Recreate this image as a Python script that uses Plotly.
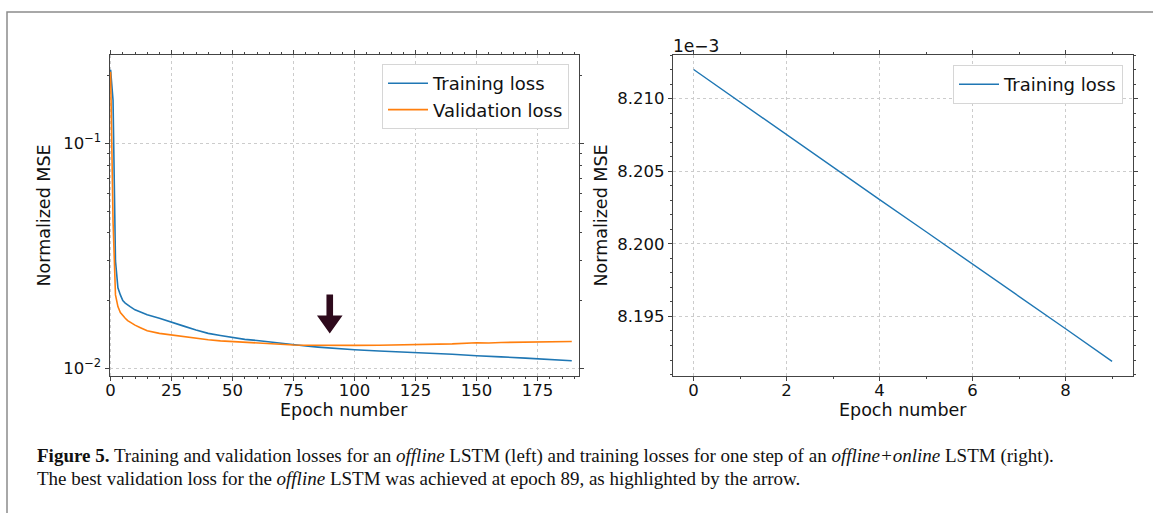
import plotly.graph_objects as go

# ---------------- data ----------------
offline_epochs = [0, 1, 2, 3, 4, 5, 6, 7, 8, 10, 12, 15, 20, 25, 30, 35, 40, 45, 50, 55,
                  60, 65, 70, 75, 80, 85, 90, 95, 100, 110, 120, 125, 130, 140, 150, 155,
                  160, 170, 175, 180, 185, 189]
offline_train_loss = [0.212, 0.155, 0.030, 0.0228, 0.0212, 0.0200, 0.0195, 0.0191, 0.0188,
                      0.0182, 0.0178, 0.0173, 0.0167, 0.0161, 0.0154, 0.0148, 0.0143, 0.0140,
                      0.0137, 0.01345, 0.0133, 0.0131, 0.0129, 0.0127, 0.01256, 0.01243,
                      0.01230, 0.01220, 0.01210, 0.01195, 0.01183, 0.01178, 0.01170, 0.01155,
                      0.01137, 0.01134, 0.01125, 0.01110, 0.01102, 0.01090, 0.01088, 0.01080]
offline_val_loss = [0.208, 0.045, 0.0212, 0.0188, 0.0177, 0.0171, 0.0167, 0.0163, 0.0160,
                    0.01556, 0.0152, 0.0147, 0.0143, 0.01405, 0.0138, 0.01355, 0.0134, 0.01325,
                    0.01315, 0.0131, 0.01302, 0.01292, 0.01282, 0.0127, 0.01266, 0.01264,
                    0.01263, 0.01264, 0.01265, 0.01267, 0.01270, 0.01272, 0.01275, 0.01285,
                    0.01300, 0.01296, 0.01303, 0.01308, 0.01315, 0.01312, 0.01318, 0.01317]
best_epoch = 89

online_epochs = [0, 1, 2, 3, 4, 5, 6, 7, 8, 9]
# values in units of 1e-3 (axis offset label "1e−3")
online_train_loss_e3 = [8.21200, 8.20975, 8.20751, 8.20527, 8.20304, 8.20083, 8.19862,
                        8.19638, 8.19415, 8.19191]

left_xticks = [0, 25, 50, 75, 100, 125, 150, 175]
left_yticks = [0.01, 0.1]
left_yticklabels = ["10<sup>−2</sup>", "10<sup>−1</sup>"]
right_xticks = [0, 2, 4, 6, 8]
right_yticks = [8.195, 8.200, 8.205, 8.210]
right_yticklabels = ["8.195", "8.200", "8.205", "8.210"]

x_title = "Epoch number"
y_title = "Normalized MSE"
caption_line1 = ("<b>Figure 5.</b> Training and validation losses for an <i>offline</i> LSTM (left) "
                 "and training losses for one step of an <i>offline+online</i> LSTM (right).")
caption_line2 = ("The best validation loss for the <i>offline</i> LSTM was achieved at epoch 89, "
                 "as highlighted by the arrow.")

# ---------------- figure ----------------
W, H = 1153, 513
BLUE = "#1f77b4"
ORANGE = "#ff7f0e"
AXC = "#444444"
GRID = "#cccccc"
FONT = "DejaVu Sans"
TXT = "#111111"


def px_x(p):
    return p / W


def px_y(p):
    return 1 - p / H


fig = go.Figure()

fig.add_trace(go.Scatter(x=offline_epochs, y=offline_train_loss, mode="lines",
                         name="Training loss", line=dict(color=BLUE, width=1.6),
                         xaxis="x", yaxis="y", legend="legend"))
fig.add_trace(go.Scatter(x=offline_epochs, y=offline_val_loss, mode="lines",
                         name="Validation loss", line=dict(color=ORANGE, width=1.6),
                         xaxis="x", yaxis="y", legend="legend"))
fig.add_trace(go.Scatter(x=online_epochs, y=online_train_loss_e3, mode="lines",
                         name="Training loss", line=dict(color=BLUE, width=1.4),
                         xaxis="x2", yaxis="y2", legend="legend2"))

common_axis = dict(showline=True, linecolor=AXC, linewidth=1, mirror="ticks",
                   ticks="outside", ticklen=4, tickcolor=AXC, tickwidth=1,
                   showgrid=True, gridcolor=GRID, griddash="dot", gridwidth=1,
                   zeroline=False, tickfont=dict(family=FONT, size=16.5, color=TXT),
                   automargin=False)

y_top, y_bot = 55, 376
L_X0, L_X1 = 109.5, 578.6
R_X0, R_X1 = 672.7, 1133

fig.update_layout(
    width=W, height=H,
    margin=dict(l=0, r=0, t=0, b=0),
    paper_bgcolor="white", plot_bgcolor="white",
    font=dict(family=FONT, color=TXT),
    xaxis=dict(domain=[px_x(L_X0), px_x(L_X1)], range=[-0.45, 191.8],
               tickvals=left_xticks, anchor="y", ticklabelstandoff=-5,
               minor=dict(dtick=5, ticks="outside", ticklen=2, tickcolor=AXC, showgrid=False),
               **common_axis),
    yaxis=dict(domain=[px_y(y_bot), px_y(y_top)], type="log", range=[-2.034, -0.608],
               tickvals=left_yticks, ticktext=left_yticklabels, anchor="x",
               minor=dict(tickvals=[0.02, 0.03, 0.04, 0.05, 0.06, 0.07, 0.08, 0.09, 0.2],
                          ticks="outside", ticklen=2, tickcolor=AXC, showgrid=False),
               **common_axis),
    xaxis2=dict(domain=[px_x(R_X0), px_x(R_X1)], range=[-0.45, 9.45],
                tickvals=right_xticks, anchor="y2", ticklabelstandoff=-5,
                minor=dict(dtick=1, ticks="outside", ticklen=2, tickcolor=AXC, showgrid=False),
                **common_axis),
    yaxis2=dict(domain=[px_y(y_bot), px_y(y_top)], range=[8.1909, 8.2130],
                tickvals=right_yticks, ticktext=right_yticklabels, anchor="x2",
                minor=dict(dtick=0.001, tick0=8.195, ticks="outside", ticklen=2,
                           tickcolor=AXC, showgrid=False),
                **common_axis),
    legend=dict(x=px_x(569), y=px_y(64), xanchor="right", yanchor="top",
                bgcolor="white", bordercolor="#d6d6d6", borderwidth=1,
                font=dict(family=FONT, size=18, color=TXT), itemwidth=40),
    legend2=dict(x=px_x(1123), y=px_y(65), xanchor="right", yanchor="top",
                 bgcolor="white", bordercolor="#d6d6d6", borderwidth=1,
                 font=dict(family=FONT, size=18, color=TXT), itemwidth=40),
    showlegend=True,
)

# arrow marking best validation epoch (pixel-sized path anchored at the data point)
best_idx = min(range(len(offline_epochs)), key=lambda i: abs(offline_epochs[i] - best_epoch))
arrow_anchor_y = offline_val_loss[best_idx]
fig.add_shape(type="path", xref="x", yref="y",
              xsizemode="pixel", ysizemode="pixel",
              xanchor=best_epoch, yanchor=arrow_anchor_y,
              path="M 2,12 L 14.8,30 L 5.3,30 L 5.3,51 L -1.3,51 L -1.3,30 L -10.8,30 Z",
              fillcolor="#2e0a1c", line=dict(width=0))

# outer frame of the figure
fig.add_shape(type="rect", xref="paper", yref="paper",
              x0=px_x(7), y0=px_y(H + 10), x1=px_x(W + 10), y1=px_y(12),
              line=dict(color="#8c8c8c", width=1.5), fillcolor="rgba(0,0,0,0)", layer="below")

# axis titles
for cx in [(L_X0 + L_X1) / 2, (R_X0 + R_X1) / 2]:
    fig.add_annotation(text=x_title, xref="paper", yref="paper", x=px_x(cx), y=px_y(410),
                       xanchor="center", yanchor="middle", showarrow=False,
                       font=dict(family=FONT, size=17.5, color=TXT))
for cx in [44, 601]:
    fig.add_annotation(text=y_title, xref="paper", yref="paper", x=px_x(cx),
                       y=px_y((y_top + y_bot) / 2), textangle=-90,
                       xanchor="center", yanchor="middle", showarrow=False,
                       font=dict(family=FONT, size=17.5, color=TXT))

# offset label for the right panel
fig.add_annotation(text="1e−3", xref="paper", yref="paper", x=px_x(671), y=px_y(y_top + 3),
                   xanchor="left", yanchor="bottom", showarrow=False,
                   font=dict(family=FONT, size=17, color=TXT))

# caption
fig.add_annotation(text=caption_line1, xref="paper", yref="paper", x=px_x(35), y=px_y(456),
                   xanchor="left", yanchor="middle", showarrow=False,
                   font=dict(family="Liberation Serif", size=19, color=TXT))
fig.add_annotation(text=caption_line2, xref="paper", yref="paper", x=px_x(35), y=px_y(478),
                   xanchor="left", yanchor="middle", showarrow=False,
                   font=dict(family="Liberation Serif", size=19, color=TXT))

fig.write_html("out.html")
